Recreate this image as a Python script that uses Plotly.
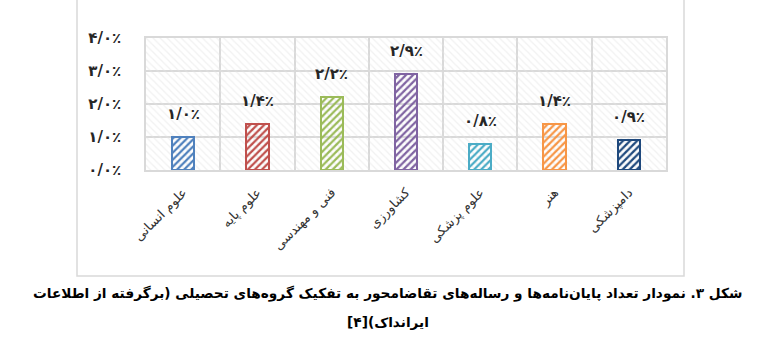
import plotly.graph_objects as go

categories = ["علوم انسانی", "علوم پایه", "فنی و مهندسی", "کشاورزی", "علوم پزشکی", "هنر", "دامپزشکی"]
values = [1.0, 1.4, 2.2, 2.9, 0.8, 1.4, 0.9]
value_labels = ["۱/۰٪", "۱/۴٪", "۲/۲٪", "۲/۹٪", "۰/۸٪", "۱/۴٪", "۰/۹٪"]
colors = ["#4F81BD", "#C0504D", "#9BBB59", "#8064A2", "#4BACC6", "#F79646", "#1F497D"]
y_ticks = [0, 1, 2, 3, 4]
y_tick_labels = ["۰/۰٪", "۱/۰٪", "۲/۰٪", "۳/۰٪", "۴/۰٪"]
RLM = "\u200f"
caption_line1 = "شکل ۳. نمودار تعداد پایان\u200cنامه\u200cها و رساله\u200cهای تقاضامحور به تفکیک گروه\u200cهای تحصیلی (برگرفته از اطلاعات"
caption_line2 = "ایرانداک)[۴]"

x = list(range(len(categories)))
ymax = y_ticks[-1]
grid = "#d9d9d9"

fig = go.Figure()
# faint hatched plot background
fig.add_trace(go.Bar(
    x=x, y=[ymax] * len(x), width=1,
    marker=dict(color="rgba(0,0,0,0)", line=dict(width=0),
                pattern=dict(shape="\\", fgcolor="#e4e4e4", bgcolor="rgba(0,0,0,0)",
                             size=5, solidity=0.25, fillmode="overlay")),
    hoverinfo="skip", showlegend=False))

fig.add_trace(go.Bar(
    x=x, y=values, width=0.3,
    marker=dict(color=colors, line=dict(color=colors, width=2),
                pattern=dict(shape="/", fgcolor="white", bgcolor=colors,
                             size=5, solidity=0.45, fillmode="replace")),
    showlegend=False))

for xi, v, t in zip(x, values, value_labels):
    fig.add_annotation(x=xi, y=v, text="<b>" + t + "</b>", showarrow=False, yanchor="middle", yshift=23,
                       font=dict(family="DejaVu Sans", size=15, color="#262626"))

fig.add_annotation(xref="paper", yref="paper", x=(388 - 146) / 520, y=(170 - 293) / 132,
                   yanchor="middle", xanchor="center",
                   text="<b>" + RLM + caption_line1 + RLM + "</b>", showarrow=False,
                   font=dict(family="DejaVu Sans", size=13.7, color="black"))
fig.add_annotation(xref="paper", yref="paper", x=(388 - 146) / 520, y=(170 - 322) / 132,
                   yanchor="middle", xanchor="center",
                   text="<b>" + RLM + caption_line2 + RLM + "</b>", showarrow=False,
                   font=dict(family="DejaVu Sans", size=13.7, color="black"))

fig.add_shape(type="rect", xref="paper", yref="paper",
              x0=(77 - 146) / 520, x1=(684 - 146) / 520,
              y0=(170 - 276) / 132, y1=(170 + 5) / 132,
              line=dict(color=grid, width=1.5), fillcolor="rgba(0,0,0,0)", layer="below")

fig.update_layout(
    width=776, height=348, autosize=False,
    margin=dict(l=146, r=110, t=38, b=178),
    paper_bgcolor="white", plot_bgcolor="white",
    barmode="overlay", bargap=0,
    font=dict(family="DejaVu Sans"),
)
fig.update_xaxes(
    range=[-0.5, len(x) - 0.5], tickmode="array", tickvals=x, ticktext=categories,
    tickangle=-45, showgrid=False, ticks="", ticklabelstandoff=8,
    tickfont=dict(family="DejaVu Sans", size=13, color="#333333"),
    showline=True, mirror=True, linecolor=grid, linewidth=1.5,
    minor=dict(tickmode="array", tickvals=[i - 0.5 for i in range(len(x) + 1)],
               showgrid=True, gridcolor=grid, gridwidth=1.5, ticks=""),
    zeroline=False, fixedrange=True)
fig.update_yaxes(
    range=[0, ymax], tickmode="array", tickvals=y_ticks,
    ticktext=["<b>" + t + "</b>" for t in y_tick_labels],
    showgrid=True, gridcolor=grid, gridwidth=1.5, ticks="", ticklabelstandoff=20,
    tickfont=dict(family="DejaVu Sans", size=15, color="#262626"),
    showline=True, mirror=True, linecolor=grid, linewidth=1.5, zeroline=False, fixedrange=True)

fig.write_html("out.html")
